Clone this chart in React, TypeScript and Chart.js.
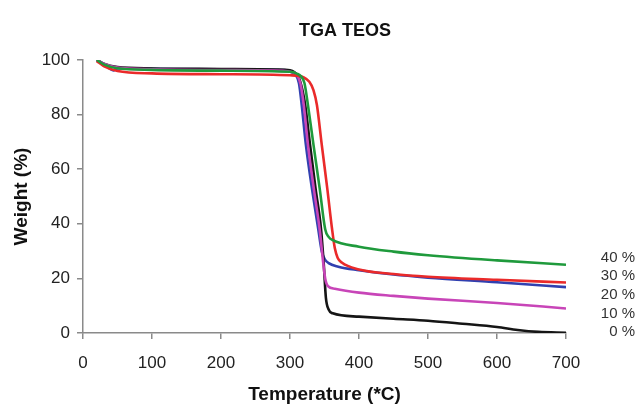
import React, { useEffect, useRef } from "react";
import { Chart, registerables } from "chart.js";

Chart.register(...registerables);

const titleText = "TGA TEOS";
const xTitle = "Temperature (*C)";
const yTitle = "Weight (%)";
const legendLabels = ["40 %", "30 %", "20 %", "10 %", "0 %"];

const black0: [number, number][] = [
  [20, 100], [30, 98.6], [50, 97.4], [100, 96.9], [200, 96.7], [280, 96.5], [300, 96.2], [306, 95.6],
  [312, 94], [318, 89], [322, 83.5], [329, 69], [337, 53], [345, 38], [349, 25], [352, 13],
  [356, 8.6], [362, 7.2], [400, 6], [450, 5.2], [500, 4.5], [550, 3.4], [600, 2.2], [630, 1.1], [660, 0.4], [700, 0.1],
];
const magenta10: [number, number][] = [
  [20, 100], [30, 98.6], [50, 97.2], [100, 96.6], [200, 96.3], [290, 96], [302, 95.6], [309, 94.8],
  [315, 91.5], [320, 83.5], [326, 69], [335, 52], [343, 38], [348, 26], [351, 20], [355, 17.2],
  [365, 16.2], [400, 14.8], [450, 13.6], [500, 12.6], [600, 11], [700, 9],
];
const blue20: [number, number][] = [
  [20, 100], [30, 98.6], [44, 96.2], [50, 96.9], [100, 96.8], [200, 96.6], [292, 96.3], [302, 95.6],
  [308, 94.6], [313, 91.5], [317, 83.5], [323, 69], [333, 51], [341, 38], [346, 30], [350, 27.2],
  [356, 25.6], [370, 24.3], [400, 23], [450, 21.4], [500, 20.3], [600, 18.6], [700, 16.8],
];
const red30: [number, number][] = [
  [20, 99.6], [30, 97.8], [50, 96], [100, 95.1], [200, 94.8], [300, 94.4], [320, 93.6], [328, 92],
  [334, 89], [339, 83.5], [346, 69], [354, 53], [361, 38], [365, 31], [369, 27.6], [375, 25.8],
  [400, 23.3], [450, 21.6], [500, 20.6], [600, 19.5], [700, 18.5],
];
const green40: [number, number][] = [
  [20, 100], [30, 98.4], [50, 97], [100, 96.4], [200, 96.1], [300, 95.7], [310, 95], [316, 94],
  [321, 91.5], [326, 83.5], [334, 69], [343, 53], [351, 38], [356, 35.2], [362, 34], [400, 31.6],
  [450, 29.8], [500, 28.5], [600, 26.6], [700, 25],
];

const toPts = (a: [number, number][]) => a.map(([x, y]) => ({ x, y }));

const overlay = {
  id: "overlay",
  afterDraw(chart: any) {
    const { ctx, scales } = chart;
    ctx.save();
    ctx.fillStyle = "#111";
    ctx.font = "bold 18px 'Liberation Sans', Arial, sans-serif";
    ctx.textAlign = "center";
    ctx.textBaseline = "middle";
    ctx.fillText(titleText, 345, 31);
    ctx.font = "15px 'Liberation Sans', Arial, sans-serif";
    ctx.textAlign = "right";
    ctx.fillStyle = "#333";
    const y0 = scales.y.getPixelForValue(0);
    const n = legendLabels.length;
    legendLabels.forEach((t, i) => {
      ctx.fillText(t, 635, y0 - 1 - (n - 1 - i) * 18.6);
    });
    ctx.restore();
  },
};

export default function App() {
  const ref = useRef<HTMLCanvasElement>(null);
  useEffect(() => {
    if (!ref.current) return;
    const font = { family: "'Liberation Sans', Arial, sans-serif", size: 17 };
    const mk = (label: string, data: [number, number][], color: string) => ({
      label,
      data: toPts(data),
      borderColor: color,
      backgroundColor: color,
      borderWidth: 2.6,
      pointRadius: 0,
      cubicInterpolationMode: "monotone" as const,
      fill: false,
    });
    const chart = new Chart(ref.current, {
      type: "line",
      data: {
        datasets: [
          mk("40 %", green40, "#1f9a3c"),
          mk("30 %", red30, "#ea2a2a"),
          mk("10 %", magenta10, "#c845b8"),
          mk("0 %", black0, "#151515"),
          mk("20 %", blue20, "#3140b0"),
        ],
      },
      options: {
        responsive: false,
        animation: false,
        layout: { padding: { top: 60, right: 74, left: 0, bottom: 0 } },
        plugins: { legend: { display: false }, title: { display: false }, tooltip: { enabled: false } },
        scales: {
          x: {
            type: "linear",
            min: 0,
            max: 700,
            afterFit: (s: any) => { s.height = 74; },
            ticks: { stepSize: 100, color: "#222", font, padding: 14 },
            grid: { drawOnChartArea: false, drawTicks: true, tickLength: 6, color: "#8a8a8a", lineWidth: 1.5 },
            border: { display: true, color: "#8a8a8a", width: 1.5 },
            title: { display: true, text: xTitle, color: "#111", font: { ...font, size: 19, weight: "bold" }, padding: { top: 0, bottom: 1 } },
          },
          y: {
            min: 0,
            max: 100,
            afterFit: (s: any) => { s.width = 83; },
            ticks: { stepSize: 20, color: "#222", font, padding: 7 },
            grid: { drawOnChartArea: false, drawTicks: true, tickLength: 6, color: "#8a8a8a", lineWidth: 1.5 },
            border: { display: true, color: "#8a8a8a", width: 1.5 },
            title: { display: true, text: yTitle, color: "#111", font: { ...font, size: 19, weight: "bold" }, padding: { top: 10, bottom: 0 } },
          },
        },
      },
      plugins: [overlay],
    });
    return () => chart.destroy();
  }, []);
  return (
    <div style={{ position: "fixed", left: 0, top: 0, width: 640, height: 407, background: "#fff" }}>
      <canvas ref={ref} width={640} height={407} />
    </div>
  );
}
